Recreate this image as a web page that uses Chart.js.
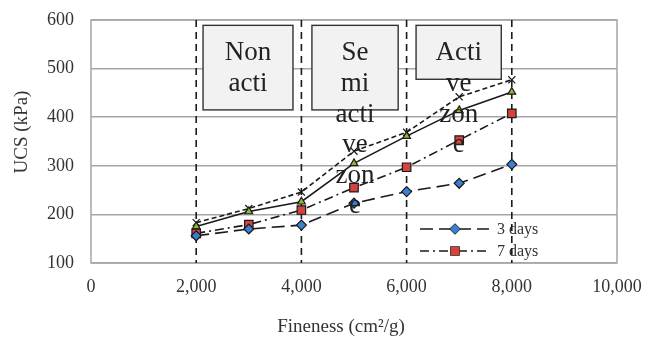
<!DOCTYPE html>
<html>
<head>
<meta charset="utf-8">
<script src="https://cdn.jsdelivr.net/npm/chart.js@4.4.1/dist/chart.umd.min.js"></script>
<style>
  html, body { margin: 0; padding: 0; background: #fff; }
  #wrap { width: 657px; height: 340px; }
</style>
</head>
<body>
<div id="wrap"><canvas id="ucsChart" width="657" height="340"></canvas></div>
<script>
'use strict';

// values
const fineness = [2000, 3000, 4000, 5000, 6000, 7000, 8000];
const days3 = [156, 170, 178, 223, 247, 264, 303];
const days7 = [161, 179, 209, 255, 297, 353, 408];
const days14 = [175, 206, 226, 305, 361, 414, 452];
const days28 = [183, 212, 246, 330, 369, 442, 477];
const seriesNames = ['3 days', '7 days', '14 days', '28 days'];
const xTicks = [0, 2000, 4000, 6000, 8000, 10000];
const yTicks = [100, 200, 300, 400, 500, 600];
const zoneLines = [2000, 4000, 6000, 8000];
const zoneNames = [['Non', 'acti'], ['Se', 'mi', 'acti', 've', 'zon', 'e'], ['Acti', 've', 'zon', 'e']];
const xTitle = 'Fineness (cm²/g)';
const yTitle = 'UCS (kPa)';

const serif = '"Liberation Serif", "Times New Roman", serif';

function pts( ys ) {
  return fineness.map( ( x, i ) => ( { x: x, y: ys[i] } ) );
}

const styles = [
  { color: '#3b7fcf', point: 'rectRot', r: 5, dash: [13, 6] },
  { color: '#d6433f', point: 'rect', r: 6, dash: [9, 4, 2, 4] },
  { color: '#8dba2e', point: 'triangle', r: 4.5, dash: [] },
  { color: '#222222', point: 'crossRot', r: 5, dash: [5, 3] }
];

const allValues = [days3, days7, days14, days28];

const datasets = allValues.map( ( vals, i ) => ( {
  label: seriesNames[i],
  data: pts( vals ),
  borderColor: '#1a1a1a',
  borderWidth: 1.6,
  borderDash: styles[i].dash,
  pointStyle: styles[i].point,
  pointRadius: styles[i].r,
  pointBackgroundColor: styles[i].color,
  pointBorderColor: '#1a1a1a',
  pointBorderWidth: 1.2,
  tension: 0
} ) );

// box extents in data units: [x0, x1, yTop, yBottom]
const zoneBoxes = [[2130, 3840, 589, 415], [4200, 5840, 589, 415], [6180, 7800, 589, 478]];

const zonePlugin = {
  id: 'zones',
  beforeDatasetsDraw( chart ) {
    const ctx = chart.ctx;
    const x = chart.scales.x;
    const a = chart.chartArea;

    // legend (only first two entries fit)
    ctx.save();
    for ( let i = 0; i < 2; i++ ) {
      const ly = 229 + i * 22;
      ctx.strokeStyle = '#1a1a1a';
      ctx.lineWidth = 1.6;
      ctx.setLineDash( styles[i].dash );
      ctx.beginPath();
      ctx.moveTo( 420, ly );
      ctx.lineTo( 489, ly );
      ctx.stroke();
      ctx.setLineDash( [] );
      ctx.fillStyle = styles[i].color;
      ctx.lineWidth = 1.2;
      Chart.helpers.drawPoint( ctx, { pointStyle: styles[i].point, radius: styles[i].r, borderWidth: 1.2 }, 455, ly );
      ctx.fill();
      ctx.fillStyle = '#333';
      ctx.font = '16px ' + serif;
      ctx.textBaseline = 'middle';
      ctx.textAlign = 'left';
      ctx.fillText( seriesNames[i], 497, ly + 1 );
    }
    ctx.restore();

    ctx.save();
    ctx.strokeStyle = '#a6a6a6';
    ctx.lineWidth = 1.5;
    ctx.strokeRect( a.left, a.top, a.right - a.left, a.bottom - a.top );
    ctx.strokeStyle = '#1a1a1a';
    ctx.lineWidth = 1.6;
    ctx.setLineDash( [7, 5] );
    zoneLines.forEach( v => {
      const px = x.getPixelForValue( v );
      ctx.beginPath();
      ctx.moveTo( px, a.top );
      ctx.lineTo( px, a.bottom );
      ctx.stroke();
    } );
    ctx.restore();

    // axis titles
    ctx.save();
    ctx.fillStyle = '#333';
    ctx.font = '19px ' + serif;
    ctx.textAlign = 'center';
    ctx.textBaseline = 'middle';
    ctx.fillText( xTitle, 341, 327 );
    ctx.translate( 22, 132 );
    ctx.rotate( -Math.PI / 2 );
    ctx.fillText( yTitle, 0, 0 );
    ctx.restore();
  },
  afterDatasetsDraw( chart ) {
    const ctx = chart.ctx;
    const x = chart.scales.x;
    const y = chart.scales.y;
    ctx.save();
    zoneBoxes.forEach( ( b, i ) => {
      const x0 = x.getPixelForValue( b[0] );
      const x1 = x.getPixelForValue( b[1] );
      const y0 = y.getPixelForValue( b[2] );
      const y1 = y.getPixelForValue( b[3] );
      ctx.fillStyle = '#f2f2f2';
      ctx.fillRect( x0, y0, x1 - x0, y1 - y0 );
      ctx.strokeStyle = '#333';
      ctx.lineWidth = 1.4;
      ctx.strokeRect( x0, y0, x1 - x0, y1 - y0 );
      ctx.fillStyle = '#222';
      ctx.font = '27px ' + serif;
      ctx.textAlign = 'center';
      ctx.textBaseline = 'alphabetic';
      const cx = ( x0 + x1 ) / 2;
      zoneNames[i].forEach( ( t, k ) => {
        ctx.fillText( t, cx, y0 + 35 + k * 30.6 );
      } );
    } );
    ctx.restore();
  }
};

const ctx = document.getElementById( 'ucsChart' ).getContext( '2d' );
const ucsChart = new Chart( ctx, {
  type: 'line',
  data: { datasets: datasets },
  options: {
    responsive: false,
    animation: false,
    layout: { padding: { top: 20, right: 40, left: 0, bottom: 0 } },
    plugins: {
      legend: { display: false },
      tooltip: { enabled: false }
    },
    scales: {
      x: {
        type: 'linear',
        min: 0,
        max: 10000,
        afterFit( s ) { s.height = 77; s.paddingLeft = 0; s.paddingRight = 0; },
        afterBuildTicks( s ) { s.ticks = xTicks.map( v => ( { value: v } ) ); },
        ticks: {
          color: '#333',
          font: { family: serif, size: 18 },
          padding: 13,
          callback: v => v.toLocaleString( 'en-US' ),
          maxRotation: 0
        },
        grid: { display: false, drawTicks: false },
        border: { display: false }
      },
      y: {
        min: 100,
        max: 600,
        afterFit( s ) { s.width = 91; s.paddingTop = 0; s.paddingBottom = 0; },
        afterBuildTicks( s ) { s.ticks = yTicks.map( v => ( { value: v } ) ); },
        ticks: {
          color: '#333',
          font: { family: serif, size: 18 },
          padding: 17
        },
        grid: { color: '#a6a6a6', lineWidth: 1.5, drawTicks: false },
        border: { display: false }
      }
    }
  },
  plugins: [zonePlugin]
} );
</script>
</body>
</html>
